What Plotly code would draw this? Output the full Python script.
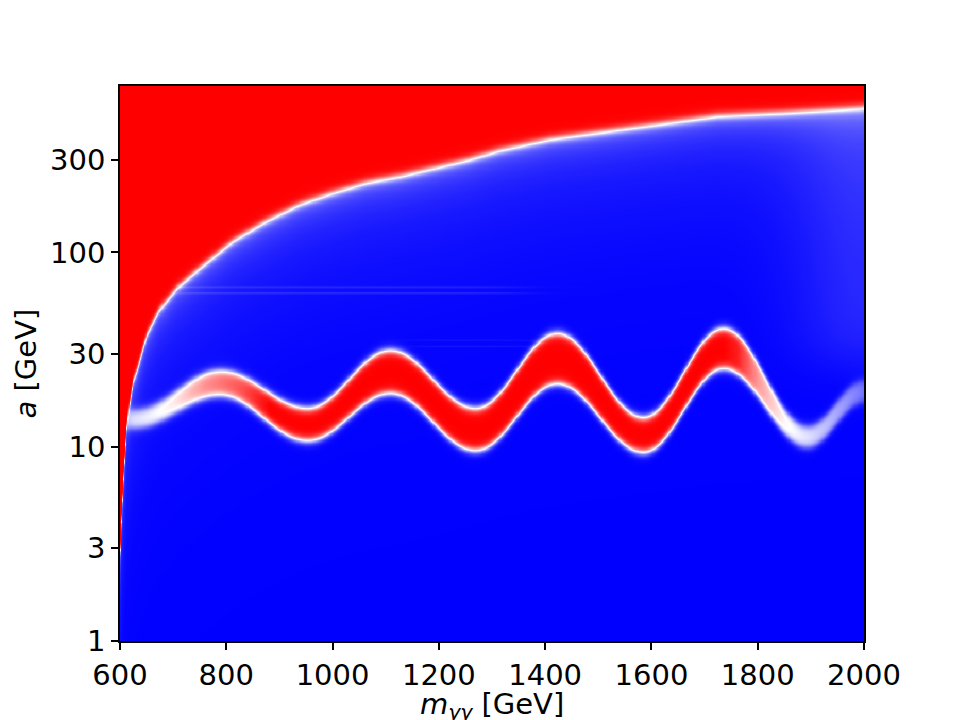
import numpy as np
import plotly.graph_objects as go

# ---------------- data ----------------
# Upper boundary of the red region: m_yy [GeV] -> a [GeV]
boundary_m = [600, 602, 605.6, 612.6, 624, 631, 650, 672, 707, 750, 813, 876,
              939, 1001, 1064, 1127, 1250, 1315, 1409, 1566, 1723, 1848, 1992, 2000]
boundary_a = [3.0, 4.2, 6.7, 13.7, 22.0, 24.8, 38.3, 50.5, 66.4, 84, 116, 147,
              179, 205, 231, 249, 300, 339, 386, 443, 508, 528, 561, 565]

# Wavy band: extrema positions and lower / upper edges [GeV]
band_m = [600, 625, 788, 952, 1108, 1268, 1422, 1584, 1735, 1893, 2000]
band_lower = [12.5, 12.5, 18.4, 10.8, 18.9, 9.6, 21.2, 9.4, 25.4, 10.0, 17.0]
band_upper = [15.5, 15.5, 24.8, 15.8, 31.4, 15.8, 38.4, 14.2, 40.7, 12.8, 22.0]

# Band intensity along m (1 = red, 0 = white, <0 = pale blue)
strength_m = [600, 625, 700, 760, 830, 880, 1735, 1760, 1800, 1850, 1893, 2000]
strength_v = [-0.3, -0.1, 0.1, 0.45, 0.7, 1.0, 1.0, 0.9, 0.4, 0.05, -0.1, -0.55]

# Faint horizontal stripes: centre a [GeV], m start, m end, amplitude
stripe_a = [62.0, 66.5, 33.0, 35.5]
stripe_m0 = [700, 700, 1150, 1150]
stripe_m1 = [1350, 1350, 1400, 1400]
stripe_amp = [0.12, 0.10, 0.06, 0.05]

x_ticks = [600, 800, 1000, 1200, 1400, 1600, 1800, 2000]
y_ticks = [1, 3, 10, 30, 100, 300]
y_top = 718.0

# ---------------- build the field ----------------
def cos_interp(xq, xp, yp):
    xp = np.asarray(xp, float)
    yp = np.asarray(yp, float)
    idx = np.clip(np.searchsorted(xp, xq) - 1, 0, len(xp) - 2)
    x0, x1 = xp[idx], xp[idx + 1]
    t = np.clip((xq - x0) / (x1 - x0), 0, 1)
    s = (1 - np.cos(np.pi * t)) / 2
    return yp[idx] + (yp[idx + 1] - yp[idx]) * s

m = np.arange(600, 2000.1, 2.0)
L = np.arange(0, np.log10(y_top) + 0.006, 0.006)
M, LL = np.meshgrid(m, L)

U = np.interp(m, boundary_m, np.log10(boundary_a))[None, :]
B1 = cos_interp(m, band_m, np.log10(band_lower))[None, :]
B2 = cos_interp(m, band_m, np.log10(band_upper))[None, :]
S = np.interp(m, strength_m, strength_v)[None, :]

dist = np.clip(U - LL, 0, None)
bg = -1 + 0.30 * np.exp(-dist / 0.07) + 0.17 * np.exp(-dist / 0.4)
bg += 0.14 * np.exp(-((2000 - M) / 130.0) ** 2) * 0.5 * (1 + np.tanh((LL - 1.45) / 0.15))
for sa, s0, s1, amp in zip(stripe_a, stripe_m0, stripe_m1, stripe_amp):
    wm = 0.5 * (np.tanh((M - s0) / 40) - np.tanh((M - s1) / 60))
    bg += amp * wm * np.exp(-((LL - np.log10(sa)) / 0.005) ** 2)
bg = np.clip(bg, -1, 1)

wb = 0.024
inside = 0.5 * (np.tanh((LL - B1) / wb) - np.tanh((LL - B2) / wb))
inside = np.clip(inside, 0, 1)
z = bg * (1 - inside) + S * inside

wu = 0.024
p_up = 0.5 * (1 + np.tanh((LL - U) / wu))
z = z * (1 - p_up) + 1.0 * p_up
z = np.round(z, 3)

# ---------------- figure ----------------
bwr = [[0.0, 'rgb(0,0,255)'], [0.5, 'rgb(255,255,255)'], [1.0, 'rgb(255,0,0)']]

fig = go.Figure(go.Heatmap(
    x=m, y=L, z=z, colorscale=bwr, zmin=-1, zmax=1,
    showscale=False, zsmooth='best', hoverinfo='skip'))

font = dict(family='DejaVu Sans', size=29, color='black')
axis_common = dict(showgrid=False, zeroline=False, showline=True, linecolor='black',
                   linewidth=1.7, mirror=True, ticks='outside', ticklen=7,
                   tickwidth=1.7, tickcolor='black', tickfont=font)

fig.update_layout(
    width=960, height=720,
    margin=dict(l=120, r=96, t=86, b=79),
    paper_bgcolor='white', plot_bgcolor='white',
    xaxis=dict(range=[600, 2000], tickvals=x_ticks,
               ticktext=[str(v) for v in x_ticks], **axis_common),
    yaxis=dict(range=[0, np.log10(y_top)], tickvals=[np.log10(v) for v in y_ticks],
               ticktext=[str(v) for v in y_ticks], **axis_common),
    annotations=[
        dict(text='<i>m</i><sub><i>γγ</i></sub> [GeV]', xref='paper', yref='paper',
             x=0.5, y=-(706 - 641) / 555, xanchor='center', yanchor='middle',
             showarrow=False, font=font),
        dict(text='<i>a</i> [GeV]', xref='paper', yref='paper',
             x=(25 - 120) / 744, y=0.5, xanchor='center', yanchor='middle',
             textangle=-90, showarrow=False, font=font),
    ],
)

fig.write_html('out.html')
